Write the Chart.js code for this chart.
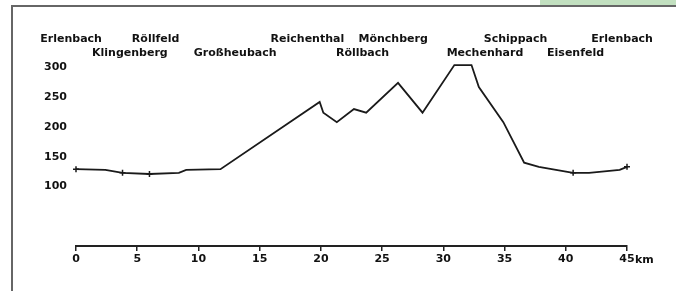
<!DOCTYPE html>
<html>
<head>
<meta charset="utf-8">
<script src="https://cdn.jsdelivr.net/npm/chart.js@4"></script>
<style>
  html, body { margin: 0; padding: 0; background: #fff; }
  #wrap { position: relative; width: 676px; height: 291px; overflow: hidden; }
  #frame { position: absolute; left: 11px; top: 5px; right: -4px; bottom: -4px; border-top: 2px solid #666; border-left: 2px solid #666; }
  #tab { position: absolute; left: 540px; top: 0; width: 136px; height: 5px; background: #c2e0c0; }
  canvas { position: absolute; left: 0; top: 0; }
</style>
</head>
<body>
<div id="wrap">
  <div id="tab"></div>
  <div id="frame"></div>
  <canvas id="profileChart" width="676" height="291"></canvas>
</div>
<script>
// Höhenprofil der Strecke (km / m ü. NN)
var kmValues   = [0, 2.4, 3.8, 6.0, 8.4, 9.0, 11.8, 19.9, 20.2, 21.3, 22.7, 23.7, 26.3, 28.3, 30.9, 32.3, 32.9, 34.9, 36.6, 37.8, 40.6, 41.9, 44.4, 45];
var elevValues = [129, 128, 123, 121, 123, 128, 129, 242, 224, 208, 230, 224, 274, 224, 304, 304, 267, 208, 140, 133, 123, 123, 128, 133];

// Orte oben, abwechselnd in zwei Zeilen
var placeNames = ['Erlenbach', 'Klingenberg', 'Röllfeld', 'Großheubach', 'Reichenthal', 'Röllbach', 'Mönchberg', 'Mechenhard', 'Schippach', 'Eisenfeld', 'Erlenbach'];
var placeKm    = [-0.4, 4.4, 6.5, 13.0, 18.9, 23.4, 25.9, 33.4, 35.9, 40.8, 44.6];
var markerKm   = [0, 3.8, 6.0, 40.6, 45];

var xTicks = [0, 5, 10, 15, 20, 25, 30, 35, 40, 45];
var yTicks = [100, 150, 200, 250, 300];

var FONT = 'bold 11px "DejaVu Sans", Verdana, sans-serif';

var points = kmValues.map(function (k, i) { return { x: k, y: elevValues[i] }; });

var placeLabels = {
	id: 'placeLabels',
	afterDraw: function (chart) {
		var ctx = chart.ctx;
		var xs = chart.scales.x;
		ctx.save();
		ctx.font = FONT;
		ctx.fillStyle = '#111';
		ctx.textAlign = 'center';
		ctx.textBaseline = 'middle';
		placeNames.forEach(function (name, i) {
			var y = i % 2 === 0 ? 39 : 53;
			ctx.fillText(name, xs.getPixelForValue(placeKm[i]), y);
		});
		// Einheit hinter der letzten Achsbeschriftung
		ctx.textAlign = 'left';
		ctx.fillText('km', xs.getPixelForValue(45) + 8, 260);
		ctx.restore();
	}
};

var ctx = document.getElementById('profileChart').getContext('2d');
var profileChart = new Chart(ctx, {
	type: 'line',
	data: {
		datasets: [{
			data: points,
			borderColor: '#1a1a1a',
			borderWidth: 1.8,
			tension: 0,
			fill: false,
			clip: false,
			pointStyle: 'cross',
			pointBorderColor: '#1a1a1a',
			pointBorderWidth: 1.5,
			pointRadius: function (c) {
				var p = c.raw;
				return p && markerKm.indexOf(p.x) >= 0 ? 3 : 0;
			},
			pointHoverRadius: 0
		}]
	},
	options: {
		responsive: false,
		animation: false,
		events: [],
		layout: { padding: { left: 0, right: 49, top: 61.5, bottom: 15 } },
		plugins: { legend: { display: false }, tooltip: { enabled: false } },
		scales: {
			x: {
				type: 'linear',
				min: 0,
				max: 45,
				afterFit: function (s) { s.height = 30; },
				afterBuildTicks: function (s) { s.ticks = xTicks.map(function (v) { return { value: v }; }); },
				border: { display: true, color: '#222', width: 2 },
				grid: { display: true, drawOnChartArea: false, drawTicks: true, tickLength: 5, color: '#222', lineWidth: 1.5 },
				ticks: {
					padding: 2,
					maxRotation: 0,
					autoSkip: false,
					color: '#111',
					font: { family: '"DejaVu Sans", Verdana, sans-serif', size: 11, weight: 'bold' }
				}
			},
			y: {
				min: 0,
				max: 310,
				afterFit: function (s) { s.width = 76; },
				afterBuildTicks: function (s) { s.ticks = yTicks.map(function (v) { return { value: v }; }); },
				border: { display: false },
				grid: { display: false, drawTicks: false },
				ticks: {
					padding: 9,
					color: '#111',
					font: { family: '"DejaVu Sans", Verdana, sans-serif', size: 11, weight: 'bold' }
				}
			}
		}
	},
	plugins: [placeLabels]
});
</script>
</body>
</html>
